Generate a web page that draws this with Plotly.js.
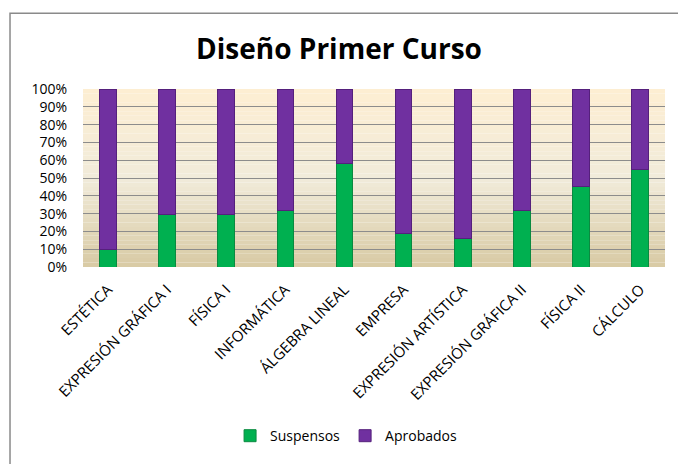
<!DOCTYPE html>
<html>
<head>
<meta charset="utf-8">
<script src="https://cdn.plot.ly/plotly-3.0.1.min.js"></script>
<style>html,body{margin:0;padding:0;background:#fff;}#chart{width:678px;height:464px;}</style>
</head>
<body>
<div id="chart"></div>
<script>
var categories = ["ESTÉTICA", "EXPRESIÓN GRÁFICA I", "FÍSICA I", "INFORMÁTICA", "ÁLGEBRA LINEAL",
  "EMPRESA", "EXPRESIÓN ARTÍSTICA", "EXPRESIÓN GRÁFICA II", "FÍSICA II", "CÁLCULO"];
var suspensos = [10, 29.5, 29.5, 32, 58, 19, 16, 32, 45.5, 55];
var aprobados = [90, 70.5, 70.5, 68, 42, 81, 84, 68, 54.5, 45];
var yTickVals = [0, 10, 20, 30, 40, 50, 60, 70, 80, 90, 100];
var yTickText = ["0%", "10%", "20%", "30%", "40%", "50%", "60%", "70%", "80%", "90%", "100%"];

// background gradient bands (styling)
function lerp(a, b, t) { return Math.round(a + (b - a) * t); }
var cTop = [253, 238, 210], cMid = [241, 235, 218], cBot = [216, 202, 164];
var shapes = [];
var N = 40;
for (var i = 0; i < N; i++) {
  var t = (i + 0.5) / N; // 0 bottom -> 1 top
  var c;
  if (t < 0.5) { var u = t / 0.5; c = [lerp(cBot[0], cMid[0], u), lerp(cBot[1], cMid[1], u), lerp(cBot[2], cMid[2], u)]; }
  else { var u2 = (t - 0.5) / 0.5; c = [lerp(cMid[0], cTop[0], u2), lerp(cMid[1], cTop[1], u2), lerp(cMid[2], cTop[2], u2)]; }
  shapes.push({type: "rect", xref: "paper", yref: "paper", x0: 0, x1: 1, y0: i / N, y1: (i + 1) / N,
    fillcolor: "rgb(" + c.join(",") + ")", line: {width: 0}, layer: "below"});
}
// outer chart border
shapes.push({type: "rect", xref: "paper", yref: "paper", x0: -0.1254, x1: 1.1, y0: -1.3, y1: 1.4254,
  line: {color: "#8a8a8a", width: 1.5}, fillcolor: "rgba(0,0,0,0)", layer: "above"});

var traces = [
  {type: "bar", name: "Suspensos", x: categories, y: suspensos,
   marker: {color: "#00B050", line: {color: "#0a8a40", width: 1}}},
  {type: "bar", name: "Aprobados", x: categories, y: aprobados,
   marker: {color: "#7030A0", line: {color: "#55207c", width: 1}}}
];

var layout = {
  width: 678, height: 464,
  margin: {l: 83, r: 13, t: 89, b: 194},
  paper_bgcolor: "#ffffff",
  plot_bgcolor: "rgba(0,0,0,0)",
  barmode: "stack",
  bargap: 0.72,
  font: {family: "Open Sans, sans-serif", color: "#000"},
  title: {text: "<b>Diseño Primer Curso</b>", font: {size: 28, color: "#000", family: "Open Sans, sans-serif"},
    x: 0.5, xanchor: "center", y: 0.895, yanchor: "middle"},
  xaxis: {type: "category", tickangle: -45, tickfont: {size: 15, family: "Open Sans, sans-serif"},
    showgrid: false, showline: false, ticks: "", zeroline: false, automargin: false, range: [-0.42, 9.42],
    ticklabelstandoff: 10},
  yaxis: {range: [0, 100], tickvals: yTickVals, ticktext: yTickText, tickfont: {size: 14, family: "Open Sans, sans-serif"},
    showgrid: true, gridcolor: "#8c8c8c", gridwidth: 1, zeroline: false, showline: false, ticks: "", automargin: false,
    ticklabelstandoff: 15},
  legend: {orientation: "h", traceorder: "normal", x: 0.452, xanchor: "center", y: -0.95, yanchor: "middle",
    font: {size: 14, family: "Open Sans, sans-serif"}, itemwidth: 30},
  shapes: shapes
};

Plotly.newPlot("chart", traces, layout, {displayModeBar: false, staticPlot: true});
</script>
</body>
</html>
